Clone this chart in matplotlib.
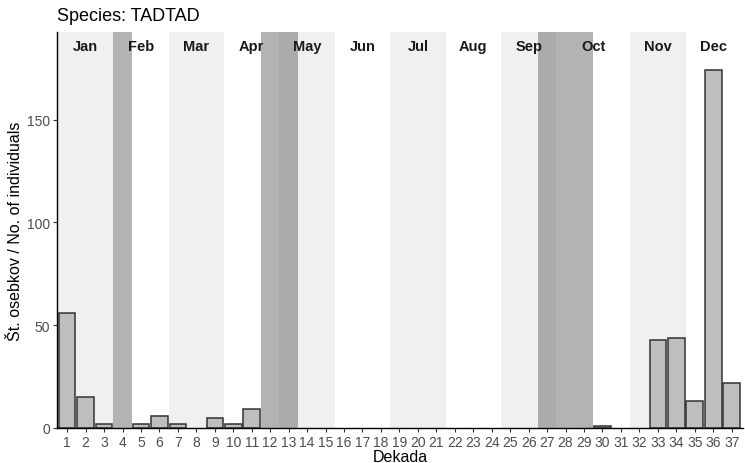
import numpy as np
import matplotlib.pyplot as plt
from matplotlib.patches import Rectangle

plt.rcParams['font.family'] = ['Liberation Sans', 'DejaVu Sans']

# decades and counts
decades = list(range(1, 38))
counts = [56, 15, 2, 0, 2, 6, 2, 0, 5, 2, 9, 0, 0, 0, 0, 0, 0, 0, 0, 0,
          0, 0, 0, 0, 0, 0, 0, 0, 0, 1, 0, 0, 43, 44, 13, 174, 22]

# months: label, label position, start, end (in decades)
months = ["Jan", "Feb", "Mar", "Apr", "May", "Jun",
          "Jul", "Aug", "Sep", "Oct", "Nov", "Dec"]
month_pos = [2, 5, 8, 11, 14, 17, 20, 23, 26, 29.5, 33, 36]
month_start = [0.4, 3.5, 6.5, 9.5, 12.5, 15.5, 18.5, 21.5, 24.5, 27.5, 31.5, 34.5]
month_end = [3.5, 6.5, 9.5, 12.5, 15.5, 18.5, 21.5, 24.5, 27.5, 31.5, 34.5, 37.6]

# highlighted periods
dark_start = [3.5, 11.5, 26.5]
dark_end = [4.5, 13.5, 29.5]

fig = plt.figure(figsize=(7.45, 4.64), dpi=100)
ax = fig.add_axes([0.0765, 0.0755, 0.9205, 0.853])

ymax = 192.5
for i, (s, e) in enumerate(zip(month_start, month_end)):
    if i % 2 == 0:
        ax.add_patch(Rectangle((s, 0), e - s, ymax, facecolor="#F0F0F0",
                               edgecolor="none", zorder=0))
for s, e in zip(dark_start, dark_end):
    ax.add_patch(Rectangle((s, 0), e - s, ymax, facecolor="#5f5f5f",
                           alpha=0.47, edgecolor="none", zorder=1))

for m, p in zip(months, month_pos):
    ax.text(p, 186, m, ha="center", va="center", fontsize=10.5,
            fontweight="bold", color="#1a1a1a", zorder=3)

# only decades with observations get a bar
shown = [(d, c) for d, c in zip(decades, counts) if c > 0]
ax.bar([d for d, c in shown], [c for d, c in shown], width=0.9,
       facecolor="#BEBEBE", edgecolor="#333333", linewidth=1.1, zorder=2)

ax.set_xlim(0.45, 37.6)
ax.set_ylim(0, ymax)
ax.set_xticks(decades)
ax.set_xticklabels([str(d) for d in decades])
ax.set_yticks([0, 50, 100, 150])

for side in ["top", "right"]:
    ax.spines[side].set_visible(False)
for side in ["left", "bottom"]:
    ax.spines[side].set_color("black")
    ax.spines[side].set_linewidth(1.0)
ax.tick_params(axis="both", colors="#333333", labelcolor="#4D4D4D",
               labelsize=10, length=3, width=0.8, pad=2)

ax.set_xlabel("Dekada", fontsize=11.5, labelpad=0)
ax.set_ylabel("Št. osebkov / No. of individuals", fontsize=11.5, labelpad=3)
fig.text(0.0765, 0.965, "Species: TADTAD", fontsize=13, ha="left", va="center")

fig.savefig("out.png", dpi=100)
